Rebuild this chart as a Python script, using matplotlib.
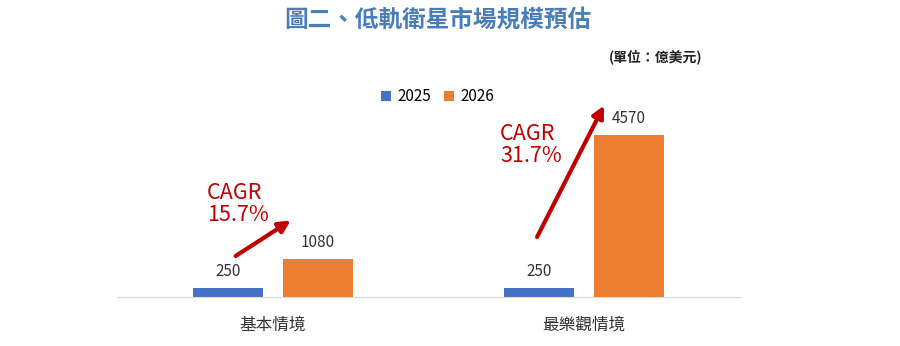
import matplotlib
matplotlib.use("Agg")
import matplotlib.pyplot as plt
import numpy as np

plt.rcParams['font.family'] = ['Noto Sans CJK TC', 'DejaVu Sans']

categories = ["基本情境", "最樂觀情境"]
years = ["2025", "2026"]
values_2025 = [250, 250]
values_2026 = [1080, 4570]
cagr = ["15.7%", "31.7%"]

blue = "#4472C4"
orange = "#ED7D31"
red = "#C00000"

fig = plt.figure(figsize=(9, 3.46), dpi=100)
ax = fig.add_axes([0.13, 0.1416, 0.692, 0.615])

x = np.arange(len(categories))
w = 0.225
off = 0.144
b1 = ax.bar(x - off, values_2025, w, color=blue, label=years[0])
b2 = ax.bar(x + off, values_2026, w, color=orange, label=years[1])

for bars in (b1, b2):
    for r in bars:
        ax.text(r.get_x() + r.get_width() / 2, r.get_height() + 230,
                f"{int(r.get_height())}", ha="center", va="bottom",
                fontsize=11, color="#333333")

ax.set_xlim(-0.5, 1.5)
ax.set_ylim(0, 6000)
ax.set_xticks(x)
ax.set_xticklabels(categories, fontsize=12, color="#333333")
ax.tick_params(axis="x", length=0, pad=14)
ax.set_yticks([])
for s in ["top", "right", "left"]:
    ax.spines[s].set_visible(False)
ax.spines["bottom"].set_color("#d9d9d9")

# CAGR arrows and labels, relative to each group centre
arrows = [((-0.119, 1156), (0.058, 2160)), ((-0.151, 1692), (0.064, 5400))]
text_pos = [(-0.212, 2000), (-0.27, 3666)]
for i, ((st, en), (tx, ty), c) in enumerate(zip(arrows, text_pos, cagr)):
    ax.annotate("", xy=(x[i] + en[0], en[1]), xytext=(x[i] + st[0], st[1]),
                arrowprops=dict(arrowstyle="-|>,head_length=0.7,head_width=0.35",
                                color=red, lw=3, shrinkA=0, shrinkB=0))
    ax.text(x[i] + tx, ty, f"CAGR\n{c}", color=red, fontsize=15.5, ha="left",
            va="bottom", linespacing=1.0, fontweight="medium")

fig.text(0.486, 0.94, "圖二、低軌衛星市場規模預估", ha="center", va="center",
         fontsize=17, fontweight="bold", color="#4A7EBB")
fig.text(0.728, 0.835, "(單位：億美元)", ha="center", va="center",
         fontsize=10, fontweight="bold", color="#222222")

fig.legend(loc="center", bbox_to_anchor=(0.486, 0.72), ncol=2, frameon=False,
           fontsize=11, handlelength=0.7, handleheight=0.7, columnspacing=0.8,
           handletextpad=0.4)

fig.savefig("out.png", dpi=100)
